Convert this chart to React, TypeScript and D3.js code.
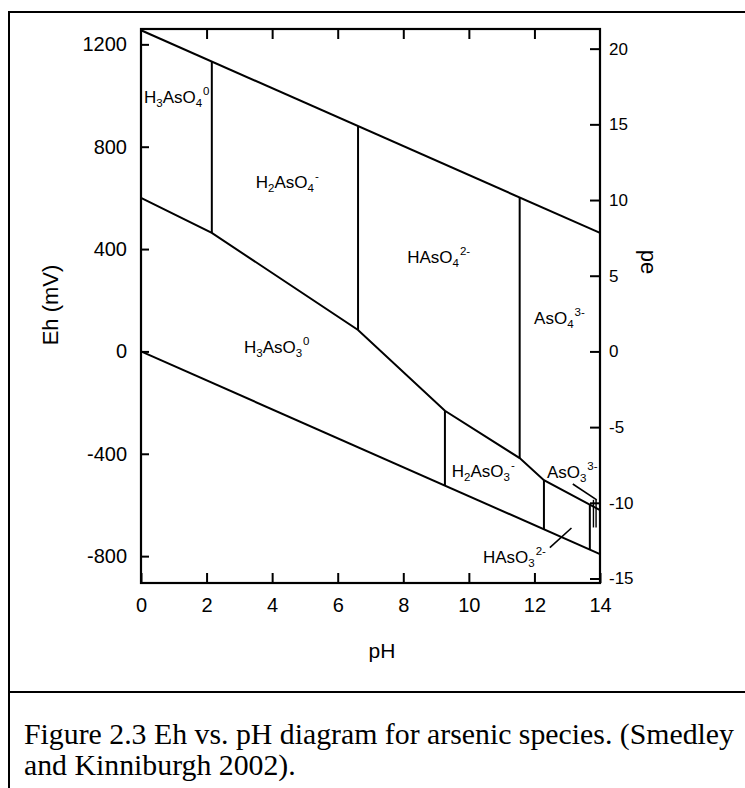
import React, { useEffect, useRef } from "react";
import * as d3 from "d3";

const W = 745;
const H = 788;

// axis ticks
const phTicks = [0, 2, 4, 6, 8, 10, 12, 14];
const ehTicks = [-800, -400, 0, 400, 800, 1200];
const peTicks = [-15, -10, -5, 0, 5, 10, 15, 20];

// boundary lines, [pH, Eh in mV]
const upperWater = [[0, 1255], [14, 463]];
const lowerWater = [[0, 0], [14, -792]];
const redoxLine = [[0, 600], [2.16, 463], [6.62, 84], [9.27, -232], [11.55, -417], [12.29, -503], [14, -620]];

// vertical boundaries: [pH, Eh low, Eh high]
const arsenateSteps = [[2.16, 463, 1133], [6.62, 84, 880], [11.55, -417, 601]];
const arseniteSteps = [[9.27, -232, -524], [12.29, -503, -695], [13.69, -599, -774], [13.8, -580, -688], [13.88, -580, -688]];

// pointer lines for the small fields
const leaders = [
  [[13.17, -518], [13.9, -580]],
  [[12.47, -767], [13.13, -690]]
];

// species names ("_" subscript, "^" superscript) and where they sit
const species = ["H_3AsO_4^0", "H_2AsO_4^-", "HAsO_4^2-", "AsO_4^3-", "H_3AsO_3^0", "H_2AsO_3^-", "AsO_3^3-", "HAsO_3^2-"];
const speciesPH = [0.09, 3.5, 8.12, 11.99, 3.14, 9.48, 12.38, 10.43];
const speciesEh = [970, 638, 347, 107, -6, -491, -495, -827];

const caption = ["Figure 2.3 Eh vs. pH diagram for arsenic species. (Smedley", "and Kinniburgh 2002)."];

const SANS = "'Liberation Sans', Arial, Helvetica, sans-serif";

function splitName(name: string) {
  const parts: { s: string; k: string }[] = [];
  let i = 0;
  while (i < name.length) {
    const c = name[i];
    if (c === "_") {
      parts.push({ s: name[i + 1], k: "sub" });
      i += 2;
    } else if (c === "^") {
      parts.push({ s: name.slice(i + 1), k: "sup" });
      i = name.length;
    } else {
      let j = i;
      while (j < name.length && name[j] !== "_" && name[j] !== "^") j++;
      parts.push({ s: name.slice(i, j), k: "n" });
      i = j;
    }
  }
  return parts;
}

export default function App() {
  const ref = useRef<SVGSVGElement>(null);

  useEffect(() => {
    const svg = d3.select(ref.current);
    svg.selectAll("*").remove();

    const left = 141, right = 600, top = 29, bottom = 583;
    const x = d3.scaleLinear().domain([0, 14]).range([left, right]);
    const y = d3.scaleLinear().domain([-905, 1260]).range([bottom, top]);
    const ype = d3.scaleLinear().domain([-905 / 59.16, 1260 / 59.16]).range([bottom, top]);
    const plain = (d: any) => String(d);

    // page frame
    svg.append("rect").attr("x", 9).attr("y", 12).attr("width", 800).attr("height", 800)
      .attr("fill", "none").attr("stroke", "#000").attr("stroke-width", 2);
    svg.append("line").attr("x1", 9).attr("x2", W).attr("y1", 692).attr("y2", 692)
      .attr("stroke", "#000").attr("stroke-width", 2);

    // axes
    const styleAxis = (g: any, size: number) => {
      g.select(".domain").remove();
      g.selectAll("line").attr("stroke", "#000").attr("stroke-width", 2);
      g.selectAll("text").attr("font-family", SANS).attr("font-size", size).attr("fill", "#000");
    };
    svg.append("g").attr("transform", `translate(${left},0)`)
      .call(d3.axisLeft(y).tickValues(ehTicks).tickFormat(plain).tickSizeInner(-8).tickSizeOuter(0).tickPadding(14))
      .call((g: any) => styleAxis(g, 20));
    svg.append("g").attr("transform", `translate(0,${bottom})`)
      .call(d3.axisBottom(x).tickValues(phTicks).tickFormat(plain).tickSizeInner(-10).tickSizeOuter(0).tickPadding(15))
      .call((g: any) => styleAxis(g, 20));
    svg.append("g").attr("transform", `translate(0,${top})`)
      .call(d3.axisTop(x).tickValues(phTicks.slice(1, -1)).tickSizeInner(-10).tickSizeOuter(0).tickFormat(() => ""))
      .call((g: any) => styleAxis(g, 20));
    svg.append("g").attr("transform", `translate(${right},0)`)
      .call(d3.axisRight(ype).tickValues(peTicks).tickFormat(plain).tickSizeInner(-10).tickSizeOuter(0).tickPadding(9))
      .call((g: any) => styleAxis(g, 17));

    svg.append("rect").attr("x", left).attr("y", top).attr("width", right - left).attr("height", bottom - top)
      .attr("fill", "none").attr("stroke", "#000").attr("stroke-width", 2.2);

    // boundaries
    const line = d3.line<number[]>().x(d => x(d[0])).y(d => y(d[1]));
    const plot = svg.append("g").attr("fill", "none").attr("stroke", "#000").attr("stroke-width", 2);
    [upperWater, lowerWater, redoxLine].forEach(d => plot.append("path").attr("d", line(d)));
    arsenateSteps.concat(arseniteSteps).forEach((d, i) => {
      plot.append("line").attr("x1", x(d[0])).attr("x2", x(d[0])).attr("y1", y(d[1])).attr("y2", y(d[2]))
        .attr("stroke-width", i >= 6 ? 1.4 : 2);
    });
    leaders.forEach(d => plot.append("path").attr("d", line(d)).attr("stroke-width", 1.6));

    // species labels
    species.forEach((name, i) => {
      const t = svg.append("text").attr("x", x(speciesPH[i])).attr("y", y(speciesEh[i]))
        .attr("font-family", SANS).attr("font-size", 17).attr("fill", "#000");
      let off = 0;
      splitName(name).forEach(p => {
        const target = p.k === "sub" ? 4 : p.k === "sup" ? -8 : 0;
        t.append("tspan").attr("dy", target - off).attr("dx", p.k === "sup" ? 1 : 0)
          .attr("font-size", p.k === "n" ? 17 : 11.5).text(p.s);
        off = target;
      });
    });

    // axis titles
    svg.append("text").attr("transform", "translate(58,305) rotate(-90)").attr("text-anchor", "middle")
      .attr("font-family", SANS).attr("font-size", 22).text("Eh (mV)");
    svg.append("text").attr("transform", "translate(641,262) rotate(90)").attr("text-anchor", "middle")
      .attr("font-family", SANS).attr("font-size", 22).text("pe");
    svg.append("text").attr("x", 382).attr("y", 658).attr("text-anchor", "middle")
      .attr("font-family", SANS).attr("font-size", 21).text("pH");

    // caption
    caption.forEach((c, i) => {
      svg.append("text").attr("x", 24).attr("y", 744 + i * 31)
        .attr("font-family", "'Liberation Serif', 'Times New Roman', serif").attr("font-size", 29.8).text(c);
    });
  }, []);

  return (
    <svg ref={ref} width={W} height={H} style={{ position: "absolute", left: 0, top: 0, background: "#fff" }} />
  );
}
